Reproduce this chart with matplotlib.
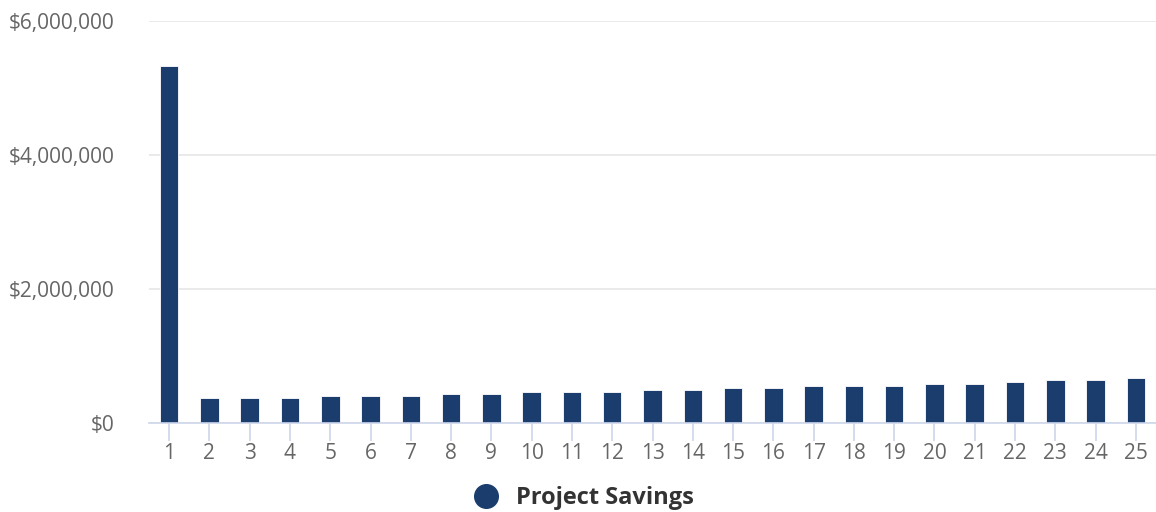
import matplotlib.pyplot as plt
from matplotlib.lines import Line2D
from matplotlib.ticker import FuncFormatter

plt.rcParams['font.family'] = ['Open Sans', 'DejaVu Sans']

years = list(range(1, 26))
savings = [5330000, 360000, 360000, 360000, 390000, 390000, 390000, 420000, 420000,
           450000, 450000, 450000, 480000, 480000, 510000, 510000, 540000, 540000,
           540000, 570000, 570000, 600000, 630000, 630000, 660000]
series_name = "Project Savings"
bar_color = "#1b3d6d"

fig = plt.figure(figsize=(11.56, 5.12), dpi=100)
ax = fig.add_axes([0.1289, 0.1748, 0.8711, 0.7848])

ax.bar(years, savings, width=0.46, color=bar_color, edgecolor="#ffffff", linewidth=0.6, zorder=3)

ax.set_xlim(0.5, 25.5)
ax.set_ylim(0, 6000000)
ax.set_yticks([0, 2000000, 4000000, 6000000])
ax.yaxis.set_major_formatter(FuncFormatter(lambda v, p: "${:,.0f}".format(v)))
ax.set_xticks(years)
ax.set_xticklabels([str(y) for y in years])

ax.grid(axis='y', color='#e6e6e6', linewidth=1.2, zorder=0)
for s in ['top', 'right', 'left']:
    ax.spines[s].set_visible(False)
ax.spines['bottom'].set_color('#ccd6eb')
ax.spines['bottom'].set_linewidth(1.2)
ax.spines['bottom'].set_zorder(4)

ax.tick_params(axis='x', length=13, width=1.2, color='#ccd6eb', labelsize=15, labelcolor='#666666', pad=2)
ax.tick_params(axis='y', length=0, labelsize=15, labelcolor='#666666', pad=25)

handle = Line2D([], [], marker='o', linestyle='none', markersize=17, color=bar_color)
fig.legend([handle], [series_name], loc='center', bbox_to_anchor=(0.5, 0.027), frameon=False,
           prop={'weight': 'bold', 'size': 17}, labelcolor='#333333', handletextpad=0.3)

fig.savefig("out.png", dpi=100)
